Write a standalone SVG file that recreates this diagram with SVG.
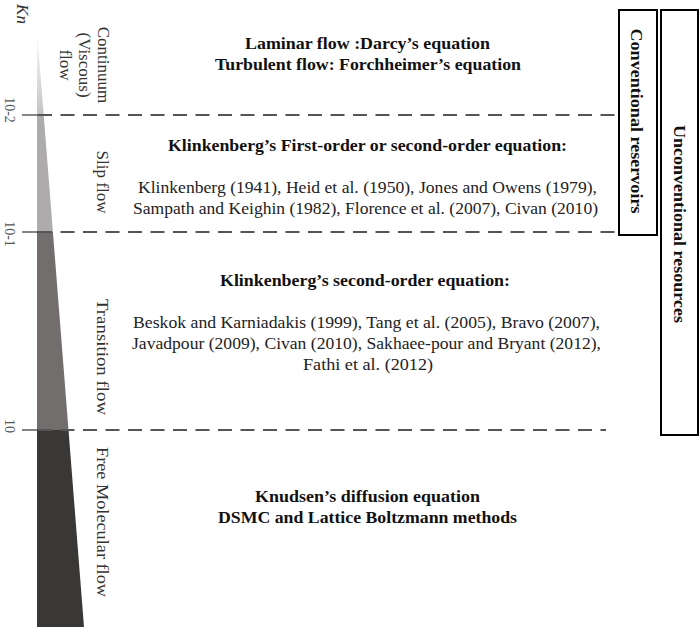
<svg xmlns="http://www.w3.org/2000/svg" width="700" height="629" viewBox="0 0 700 629">
<defs>
<linearGradient id="topfade" x1="0" y1="30" x2="0" y2="115" gradientUnits="userSpaceOnUse">
<stop offset="0" stop-color="#ffffff"/>
<stop offset="1" stop-color="#c4c2c2"/>
</linearGradient>
<style>
.bold{font-family:"Liberation Serif","Times New Roman",serif;font-weight:bold;font-size:17.5px;fill:#111}
.reg{font-family:"Liberation Serif","Times New Roman",serif;font-size:17.5px;fill:#222}
.side{font-family:"Liberation Serif","Times New Roman",serif;font-size:17px;fill:#333}
.tick{font-family:"Liberation Serif","Times New Roman",serif;font-size:14px;fill:#555}
.dash{stroke:#555;stroke-width:2;stroke-dasharray:14 8.5;fill:none}
.tk{stroke:#333;stroke-width:1.2}
.box{fill:#fff;stroke:#000;stroke-width:2}
</style>
</defs>
<rect width="700" height="629" fill="#fff"/>

<g id="kn-bar">
<polygon points="37,30 43.7,115 37,115" fill="url(#topfade)"/>
<polygon points="37,115 43.7,115 52.9,232 37,232" fill="#adabab"/>
<polygon points="37,232 52.9,232 68.5,430 37,430" fill="#726e6e"/>
<polygon points="37,430 68.5,430 84,627 37,627" fill="#3a3836"/>
<text font-family="Liberation Serif, serif" font-style="italic" font-size="17" fill="#333" x="14" y="-17" text-anchor="middle" transform="rotate(90)">Kn</text>
</g>

<g id="boundaries">
<line class="tk" x1="22" y1="115" x2="38" y2="115"/>
<line class="dash" x1="38" y1="115" x2="615" y2="115"/>
<line class="tk" x1="22" y1="232" x2="38" y2="232"/>
<line class="dash" x1="38" y1="232" x2="615" y2="232"/>
<line class="tk" x1="22" y1="430" x2="38" y2="430"/>
<line class="dash" x1="38" y1="430" x2="606" y2="430"/>
<text class="tick" x="110" y="-5" text-anchor="middle" transform="rotate(90)">10-2</text>
<text class="tick" x="234" y="-5" text-anchor="middle" transform="rotate(90)">10-1</text>
<text class="tick" x="426" y="-5" text-anchor="middle" transform="rotate(90)">10</text>
</g>

<g id="continuum">
<g transform="translate(0,65) rotate(90)">
<text class="side" x="0" y="-97.5" text-anchor="middle">Continuum</text>
<text class="side" x="0" y="-78.5" text-anchor="middle">(Viscous)</text>
<text class="side" x="0" y="-59.5" text-anchor="middle">flow</text>
</g>
<text class="bold" x="245" y="49" textLength="245" lengthAdjust="spacingAndGlyphs">Laminar flow :Darcy’s equation</text>
<text class="bold" x="215" y="70" textLength="306" lengthAdjust="spacingAndGlyphs">Turbulent flow: Forchheimer’s equation</text>
</g>

<g id="slip">
<text class="side" x="182" y="-97" text-anchor="middle" transform="rotate(90)">Slip flow</text>
<text class="bold" x="168" y="151" textLength="399" lengthAdjust="spacingAndGlyphs">Klinkenberg’s First-order or second-order equation:</text>
<text class="reg" x="138" y="193" textLength="459" lengthAdjust="spacingAndGlyphs">Klinkenberg (1941), Heid et al. (1950), Jones and Owens (1979),</text>
<text class="reg" x="133" y="214" textLength="465" lengthAdjust="spacingAndGlyphs">Sampath and Keighin (1982), Florence et al. (2007), Civan (2010)</text>
</g>

<g id="transition">
<text class="side" x="357" y="-97" text-anchor="middle" transform="rotate(90)" textLength="116" lengthAdjust="spacingAndGlyphs">Transition flow</text>
<text class="bold" x="220" y="286" textLength="290" lengthAdjust="spacingAndGlyphs">Klinkenberg’s second-order equation:</text>
<text class="reg" x="133" y="328" textLength="467" lengthAdjust="spacingAndGlyphs">Beskok and Karniadakis (1999), Tang et al. (2005), Bravo (2007),</text>
<text class="reg" x="132" y="349" textLength="469" lengthAdjust="spacingAndGlyphs">Javadpour (2009), Civan (2010), Sakhaee-pour and Bryant (2012),</text>
<text class="reg" x="303" y="370" textLength="130" lengthAdjust="spacingAndGlyphs">Fathi et al. (2012)</text>
</g>

<g id="free-molecular">
<text class="side" x="522" y="-97" text-anchor="middle" transform="rotate(90)" textLength="150" lengthAdjust="spacingAndGlyphs">Free Molecular flow</text>
<text class="bold" x="255" y="502" textLength="225" lengthAdjust="spacingAndGlyphs">Knudsen’s diffusion equation</text>
<text class="bold" x="218" y="523" textLength="299" lengthAdjust="spacingAndGlyphs">DSMC and Lattice Boltzmann methods</text>
</g>

<g id="conventional">
<rect class="box" x="619" y="10" width="38" height="225"/>
<text class="bold" font-size="18" x="121" y="-631" text-anchor="middle" transform="rotate(90)" textLength="185" lengthAdjust="spacingAndGlyphs">Conventional reservoirs</text>
</g>

<g id="unconventional">
<rect class="box" x="661" y="10" width="37" height="425"/>
<text class="bold" font-size="18" x="224" y="-674" text-anchor="middle" transform="rotate(90)" textLength="198" lengthAdjust="spacingAndGlyphs">Unconventional resources</text>
</g>
</svg>
